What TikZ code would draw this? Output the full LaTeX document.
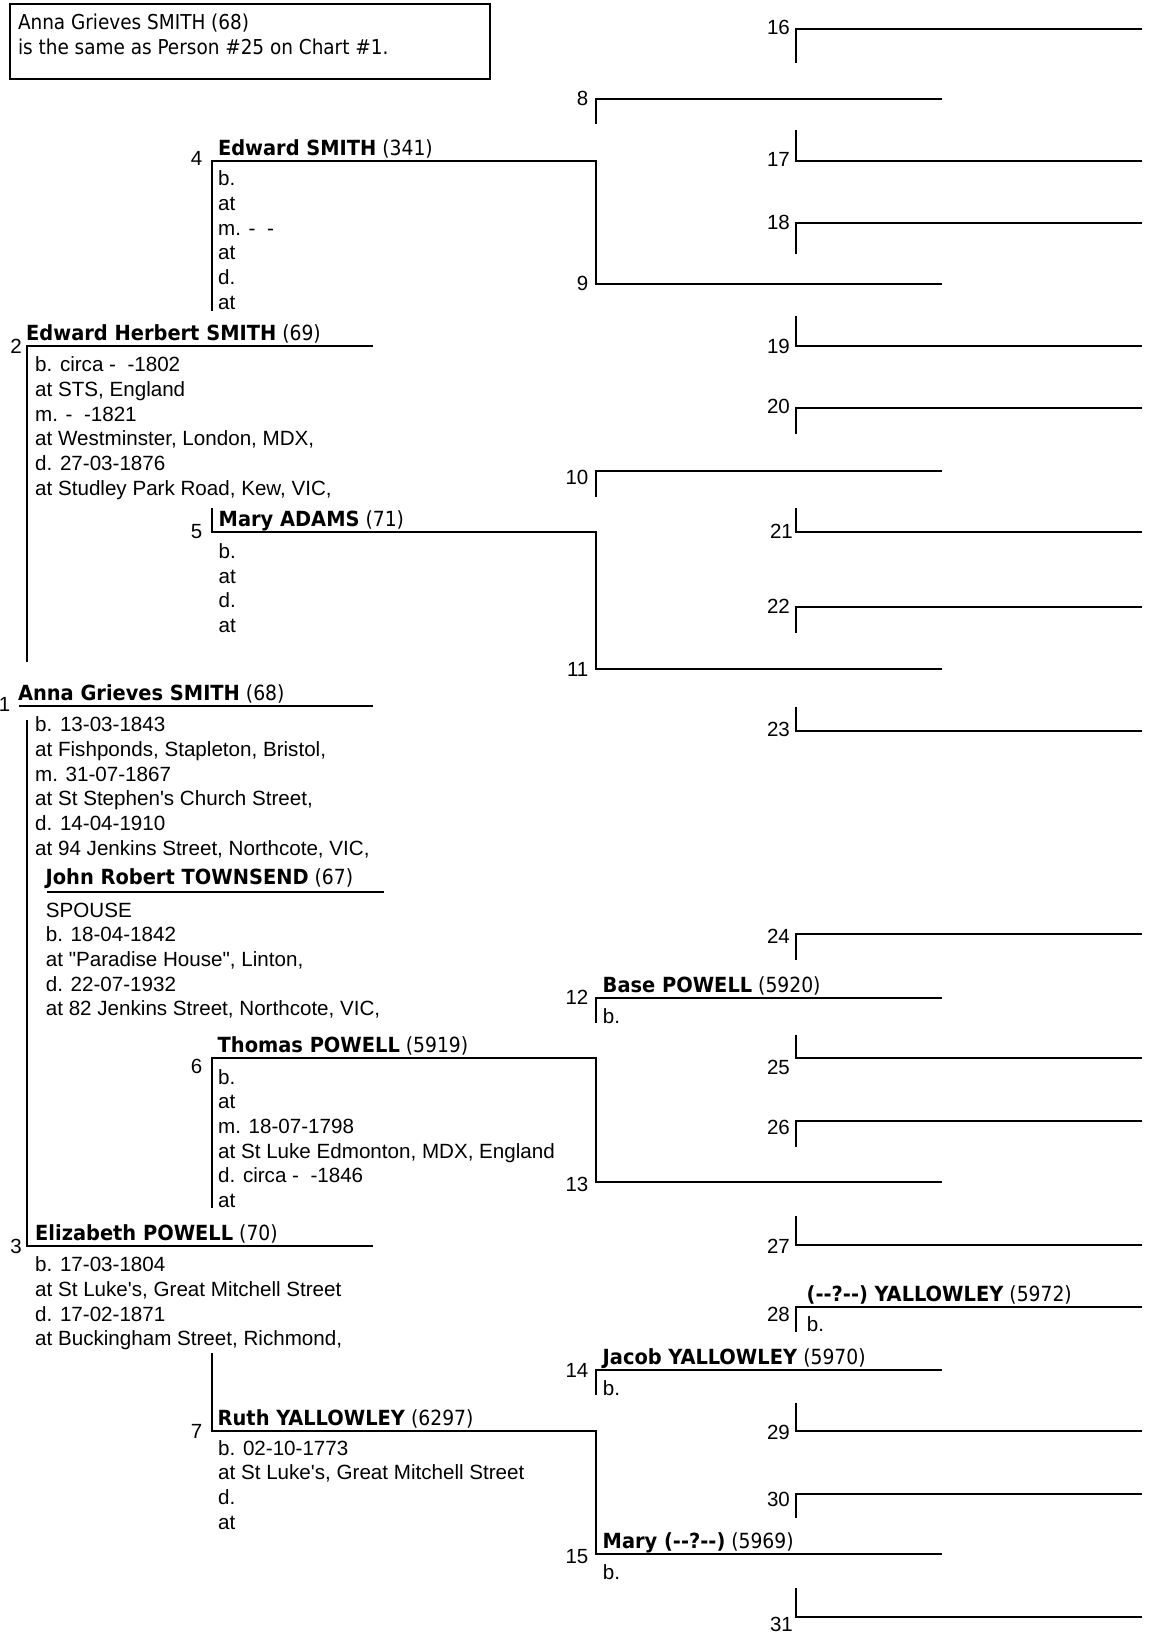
\documentclass[tikz,border=0pt]{standalone}
\usepackage{fontspec}
\setmainfont{Liberation Sans}
\newfontfamily\detf{Liberation Sans}
\newfontfamily\nmf{DejaVu Sans Condensed}[BoldFeatures={FakeStretch=1.035}]
\newcommand\dd{-\kern0pt-}
\newcommand\lns[2][24.7pt]{\vtop{\baselineskip=#1\lineskiplimit=-30pt\lineskip=0pt\def\\{\egroup\hbox\bgroup}\hbox\bgroup#2\egroup}}
\tikzset{
  ln/.style={line width=2pt, line cap=butt, line join=miter},
  num/.style={anchor=base east, inner sep=0pt, font=\detf\fontsize{20.5}{24.7}\selectfont},
  nm/.style={anchor=base west, inner sep=0pt, font=\nmf\fontsize{20.85}{24.7}\selectfont},
  note/.style={anchor=base west, inner sep=0pt, font=\nmf\fontsize{20.5}{24.7}\selectfont},
  det/.style={anchor=base west, inner sep=0pt, font=\detf\fontsize{20.6}{24.7}\selectfont},
}
% generation 5: number, y, tick end y, label x, label baseline
\newcommand\gfive[5]{%
  \coordinate (g#1a) at (796,#2);
  \coordinate (g#1b) at (1142,#2);
  \coordinate (g#1t) at (796,#3);
  \draw[ln] (g#1t) -- (g#1a) -- (g#1b);
  \node[num] (l#1) at (#4,#5) {#1};
}
% generation 4 line ends
\newcommand\gfour[3]{%
  \coordinate (g#1a) at (596,#2);
  \coordinate (g#1b) at (942,#2);
  \node[num] (l#1) at (588.5,#3) {#1};
}
\begin{document}
\begin{tikzpicture}[x=1pt,y=-1pt]
\fill[white] (0,0) rectangle (1149,1634);
\useasboundingbox (0,0) rectangle (1149,1634);

% note box
\node[draw, ln, minimum width=480pt, minimum height=75pt, anchor=north west, inner sep=0pt] (note) at (9,3) {};
\node[note] (notetxt) at (17.8,29.3) {\lns[25pt]{Anna Grieves SMITH (68)\\is the same as Person \#25 on Chart \#1.}};

% generation 5
\gfive{16}{29.3}{63}{790}{34.5}
\gfive{17}{160.5}{130}{790}{166.5}
\gfive{18}{222.7}{254}{790}{229.5}
\gfive{19}{346}{315.5}{790}{353}
\gfive{20}{408.3}{434}{790}{413.3}
\gfive{21}{532.3}{508.3}{793}{538.3}
\gfive{22}{606.7}{633.3}{790}{613.3}
\gfive{23}{730.7}{706.7}{790}{736.7}
\gfive{24}{934}{960}{790}{943}
\gfive{25}{1057.7}{1035}{790}{1074}
\gfive{26}{1121}{1147}{790}{1134}
\gfive{27}{1245.3}{1216}{790}{1253}
\gfive{28}{1306.7}{1332}{790}{1321}
\gfive{29}{1430.7}{1402.7}{790}{1439}
\gfive{30}{1494}{1518.3}{790}{1506}
\gfive{31}{1617}{1588.3}{793}{1631}

% generation 4
\gfour{8}{99}{105.5}
\gfour{9}{284.3}{290}
\gfour{10}{470.7}{484}
\gfour{11}{669}{676.7}
\gfour{12}{997.7}{1004.5}
\gfour{13}{1182.3}{1191}
\gfour{14}{1370}{1377}
\gfour{15}{1554}{1563}
\coordinate (g8t) at (596,124);
\coordinate (g10t) at (596,496.7);
\coordinate (g12t) at (596,1023);
\coordinate (g14t) at (596,1395);
\draw[ln] (g8t) -- (g8a) -- (g8b);
\draw[ln] (g10t) -- (g10a) -- (g10b);
\draw[ln] (g12t) -- (g12a) -- (g12b);
\draw[ln] (g14t) -- (g14a) -- (g14b);

% generation 3
\coordinate (p4a) at (212,160.5);  \coordinate (p4b) at (596,160.5);  \coordinate (p4t) at (212,310.7);
\coordinate (p5a) at (212,532.3);  \coordinate (p5b) at (596,532.3);  \coordinate (p5t) at (212,508.3);
\coordinate (p6a) at (212,1058.3); \coordinate (p6b) at (596,1058.3); \coordinate (p6t) at (212,1208.3);
\coordinate (p7a) at (212,1430.5); \coordinate (p7b) at (596,1430.5); \coordinate (p7t) at (212,1352.7);
\draw[ln] (p4t) -- (p4a) -- (p4b) -- (g9a) -- (g9b);
\draw[ln] (p5t) -- (p5a) -- (p5b) -- (g11a) -- (g11b);
\draw[ln] (p6t) -- (p6a) -- (p6b) -- (g13a) -- (g13b);
\draw[ln] (p7t) -- (p7a) -- (p7b) -- (g15a) -- (g15b);
\node[num] (l4) at (202.5,165.7) {4};
\node[num] (l5) at (202.5,538.3) {5};
\node[num] (l6) at (202.5,1073) {6};
\node[num] (l7) at (202.5,1438) {7};

% generation 2 and 1
\coordinate (p2a) at (27,346);    \coordinate (p2b) at (373,346);    \coordinate (p2t) at (27,661.7);
\coordinate (p3a) at (27,1245.7); \coordinate (p3b) at (373,1245.7); \coordinate (p3t) at (27,720);
\coordinate (p1a) at (19.3,705.5); \coordinate (p1b) at (373,705.5);
\coordinate (spa) at (47,892.3);   \coordinate (spb) at (384,892.3);
\draw[ln] (p2t) -- (p2a) -- (p2b);
\draw[ln] (p3t) -- (p3a) -- (p3b);
\draw[ln] (p1a) -- (p1b);
\draw[ln] (spa) -- (spb);
\node[num] (l2) at (22,353.3) {2};
\node[num] (l3) at (22,1253.3) {3};
\node[num] (l1) at (10.4,711.7) {1};

% names
\node[nm] (n4) at (217.8,155) {\textbf{Edward SMITH} (341)};
\node[nm] (n2) at (26,340.5) {\textbf{Edward Herbert SMITH} (69)};
\node[nm] (n5) at (218.5,526.8) {\textbf{Mary ADAMS} (71)};
\node[nm] (n1) at (17.8,700) {\textbf{Anna Grieves SMITH} (68)};
\node[nm] (nsp) at (45.5,884) {\textbf{John Robert TOWNSEND} (67)};
\node[nm] (n6) at (217.5,1052.8) {\textbf{Thomas POWELL} (5919)};
\node[nm] (n3) at (35,1240.2) {\textbf{Elizabeth POWELL} (70)};
\node[nm] (n7) at (217.5,1425) {\textbf{Ruth YALLOWLEY} (6297)};
\node[nm] (n12) at (602.5,992.2) {\textbf{Base POWELL} (5920)};
\node[nm] (n14) at (602.5,1364.5) {\textbf{Jacob YALLOWLEY} (5970)};
\node[nm] (n15) at (602.5,1548.5) {\textbf{Mary (\dd?\dd)} (5969)};
\node[nm] (n28) at (806.5,1301.2) {\textbf{(\dd?\dd) YALLOWLEY} (5972)};

% details
\node[det] (d4) at (218,185.7) {\lns{b.\\at\\m. -\ \ -\\at\\d.\\at}};
\node[det] (d2) at (35,371.7) {\lns{b. circa -\ \ -1802\\at STS, England\\m. -\ \ -1821\\at Westminster, London, MDX,\\d. 27-03-1876\\at Studley Park Road, Kew, VIC,}};
\node[det] (d5) at (218.5,558.3) {\lns{b.\\at\\d.\\at}};
\node[det] (d1) at (35,731.7) {\lns{b. 13-03-1843\\at Fishponds, Stapleton, Bristol,\\m. 31-07-1867\\at St Stephen's Church Street,\\d. 14-04-1910\\at 94 Jenkins Street, Northcote, VIC,}};
\node[det] (dsp) at (45.7,917) {\lns{SPOUSE\\b. 18-04-1842\\at "Paradise House", Linton,\\d. 22-07-1932\\at 82 Jenkins Street, Northcote, VIC,}};
\node[det] (d6) at (218,1084) {\lns{b.\\at\\m. 18-07-1798\\at St Luke Edmonton, MDX, England\\d. circa -\ \ -1846\\at}};
\node[det] (d3) at (35,1271.7) {\lns{b. 17-03-1804\\at St Luke's, Great Mitchell Street\\d. 17-02-1871\\at Buckingham Street, Richmond,}};
\node[det] (d7) at (218,1455) {\lns{b. 02-10-1773\\at St Luke's, Great Mitchell Street\\d.\\at}};
\node[det] (d12) at (602.7,1023.3) {b.};
\node[det] (d14) at (602.7,1395) {b.};
\node[det] (d15) at (602.7,1579.3) {b.};
\node[det] (d28) at (806.7,1331) {b.};
\end{tikzpicture}
\end{document}
